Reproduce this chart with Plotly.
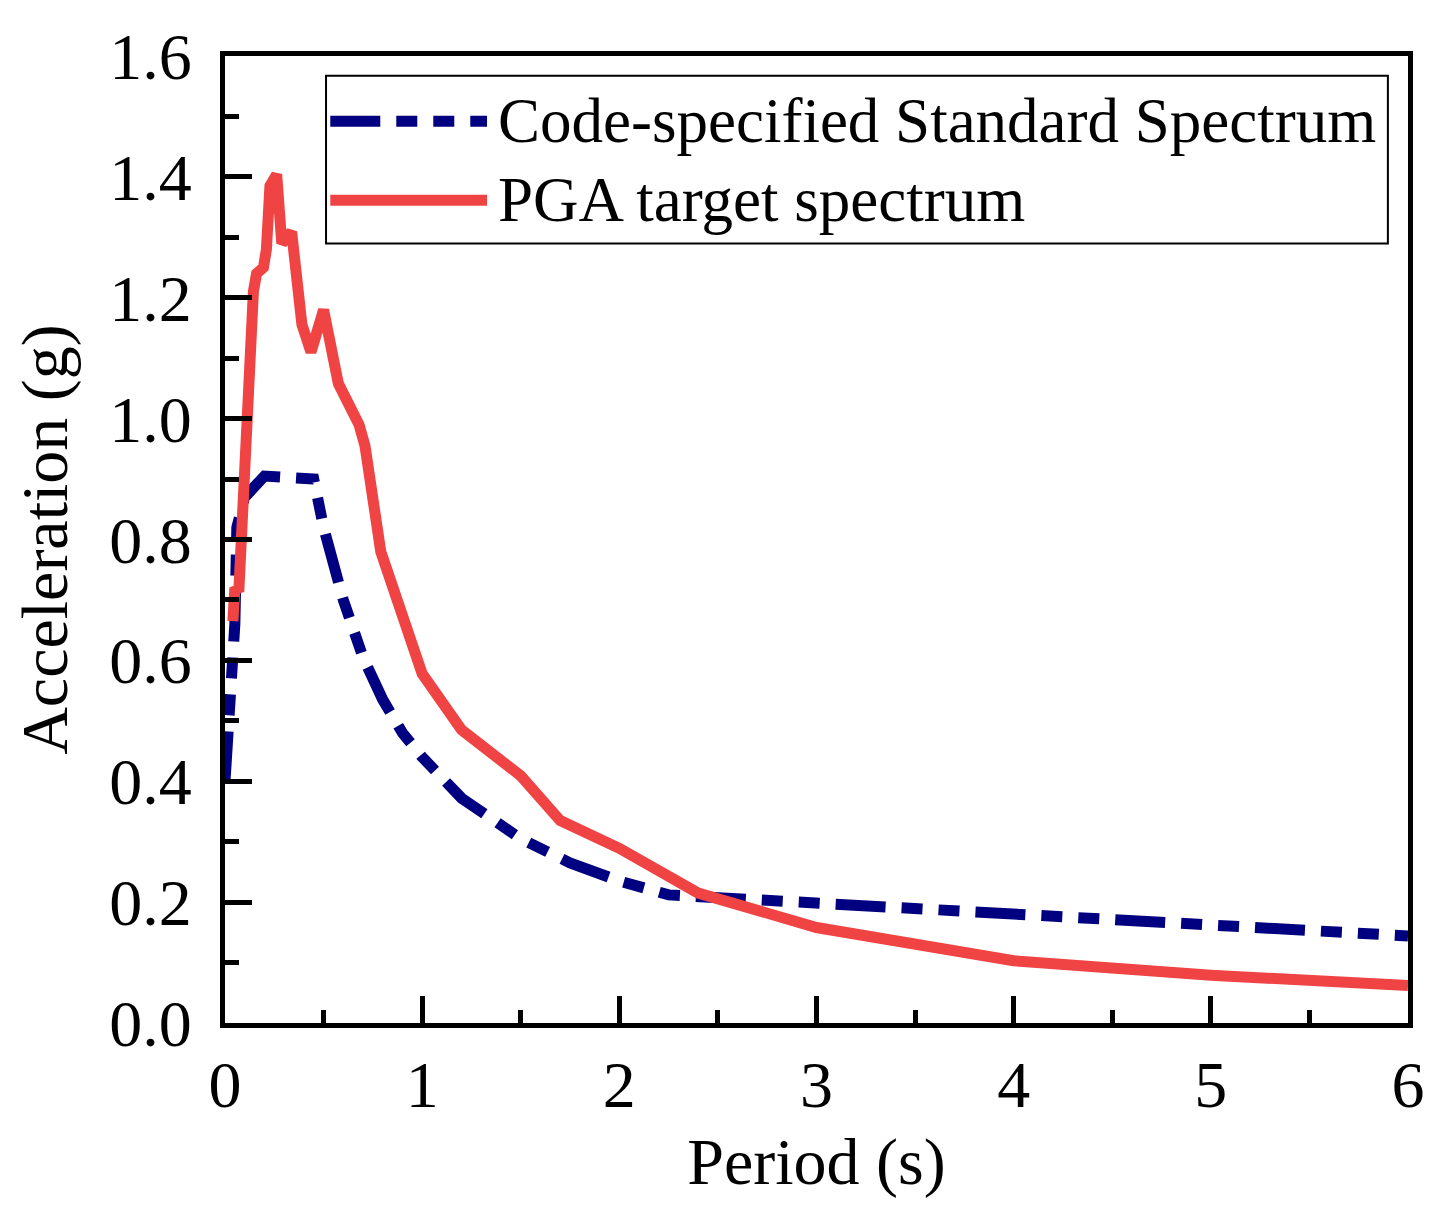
import plotly.graph_objects as go

# Code-specified standard spectrum
code_period = [0.0, 0.02, 0.04, 0.05, 0.06, 0.10, 0.20, 0.45, 0.50, 0.60, 0.70, 0.80,
               0.90, 1.00, 1.20, 1.50, 1.75, 2.00, 2.25, 3.00, 4.00, 5.00, 6.00]
code_acc = [0.40, 0.50, 0.60, 0.66, 0.82, 0.87, 0.905, 0.90, 0.82, 0.70, 0.605, 0.535,
            0.48, 0.44, 0.372, 0.305, 0.265, 0.235, 0.212, 0.198, 0.180, 0.162, 0.144]

# PGA target spectrum
pga_period = [0.04, 0.05, 0.07, 0.093, 0.11, 0.127, 0.144, 0.16, 0.195, 0.21, 0.228,
              0.262, 0.288, 0.338, 0.39, 0.436, 0.50, 0.575, 0.68, 0.71, 0.79, 1.00,
              1.20, 1.50, 1.70, 2.00, 2.40, 3.00, 4.00, 5.00, 6.00]
pga_acc = [0.665, 0.72, 0.714, 0.884, 0.99, 1.10, 1.21, 1.24, 1.25, 1.28, 1.385,
           1.404, 1.29, 1.309, 1.156, 1.11, 1.18, 1.058, 0.99, 0.955, 0.78, 0.578,
           0.485, 0.409, 0.335, 0.289, 0.215, 0.158, 0.103, 0.079, 0.062]

series_names = ["Code-specified Standard Spectrum", "PGA target spectrum"]
blue = "#000080"
red = "#F04343"
font = "Liberation Serif"
dash_style = "50px,16px,21px,16px,21px,16px"

fig = go.Figure()
fig.add_trace(go.Scatter(x=code_period, y=code_acc, mode="lines", name=series_names[0],
                         line=dict(color=blue, width=11, dash=dash_style)))
fig.add_trace(go.Scatter(x=pga_period, y=pga_acc, mode="lines", name=series_names[1],
                         line=dict(color=red, width=11)))

axis_common = dict(showline=True, linewidth=5, linecolor="black", mirror=True,
                   showgrid=False, zeroline=False, ticks="inside", tickwidth=5,
                   tickcolor="black", ticklen=27,
                   tickfont=dict(family=font, size=66, color="black"))

fig.update_xaxes(range=[0, 6], tickmode="linear", tick0=0, dtick=1,
                 ticklabelstandoff=0,
                 minor=dict(ticks="inside", dtick=0.5, ticklen=13, tickwidth=5,
                            tickcolor="black"),
                 title=dict(text="Period (s)", font=dict(family=font, size=66, color="black"),
                            standoff=19),
                 **axis_common)
fig.update_yaxes(range=[0, 1.6], tickmode="linear", tick0=0, dtick=0.2, tickformat=".1f",
                 ticklabelstandoff=15,
                 minor=dict(ticks="inside", dtick=0.1, ticklen=14, tickwidth=5,
                            tickcolor="black"),
                 title=dict(text="Acceleration (g)", font=dict(family=font, size=66, color="black"),
                            standoff=23),
                 **axis_common)

# legend drawn by hand so the sample lines match the long strokes of the original
leg_y = [0.9325, 0.8507]
fig.add_shape(type="rect", xref="paper", yref="paper", x0=0.0854, x1=0.983, y0=0.806, y1=0.9796,
              line=dict(color="black", width=2), fillcolor="white", layer="above")
fig.add_shape(type="line", xref="paper", yref="paper", x0=0.089, x1=0.2215, y0=leg_y[0], y1=leg_y[0],
              line=dict(color=blue, width=11, dash=dash_style), layer="above")
fig.add_shape(type="line", xref="paper", yref="paper", x0=0.089, x1=0.2215, y0=leg_y[1], y1=leg_y[1],
              line=dict(color=red, width=11), layer="above")
for name, yy in zip(series_names, leg_y):
    fig.add_annotation(xref="paper", yref="paper", x=0.229, y=yy, text=name, showarrow=False,
                       xanchor="left", yanchor="middle",
                       font=dict(family=font, size=63, color="black"))

# page body has an 8px margin on every side, so keep the figure inside the window
fig.update_layout(width=1433, height=1214, showlegend=False,
                  margin=dict(l=217, r=33, t=37, b=199),
                  plot_bgcolor="white", paper_bgcolor="white")

fig.write_html("out.html")
